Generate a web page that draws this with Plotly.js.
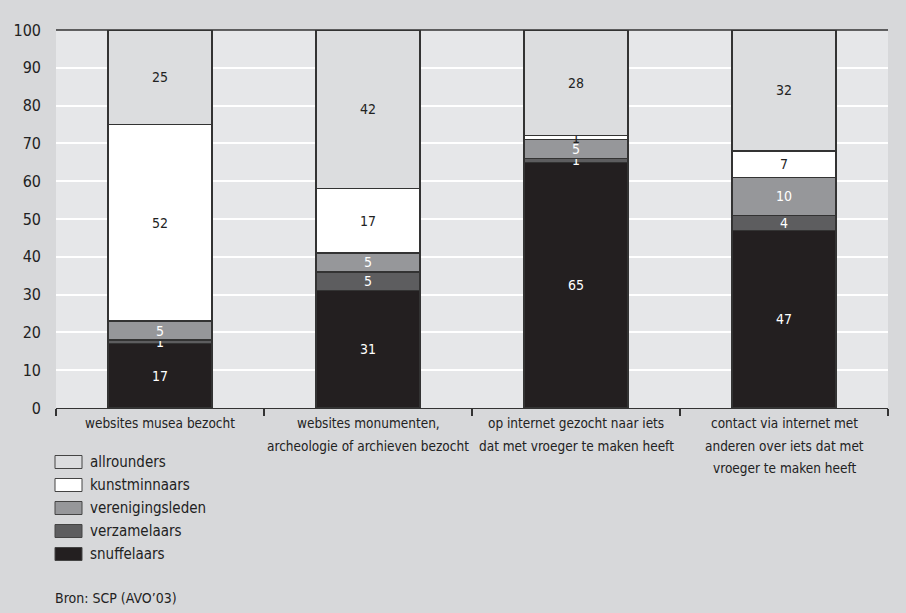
<!DOCTYPE html>
<html>
<head>
<meta charset="utf-8">
<script src="https://cdn.plot.ly/plotly-3.0.1.min.js"></script>
<style>html,body{margin:0;padding:0;background:#d7d8da;}#chart{width:906px;height:613px;}</style>
</head>
<body>
<div id="chart"></div>
<script>
const categories = [
  "websites musea bezocht",
  "websites monumenten,<br>archeologie of archieven bezocht",
  "op internet gezocht naar iets<br>dat met vroeger te maken heeft",
  "contact via internet met<br>anderen over iets dat met<br>vroeger te maken heeft"
];
const seriesNames = ["snuffelaars", "verzamelaars", "verenigingsleden", "kunstminnaars", "allrounders"];
const snuffelaars = [17, 31, 65, 47];
const verzamelaars = [1, 5, 1, 4];
const verenigingsleden = [5, 5, 5, 10];
const kunstminnaars = [52, 17, 1, 7];
const allrounders = [25, 42, 28, 32];
const yTicks = [0, 10, 20, 30, 40, 50, 60, 70, 80, 90, 100];
const sourceText = "Bron: SCP (AVO’03)";

const seriesValues = [snuffelaars, verzamelaars, verenigingsleden, kunstminnaars, allrounders];
const fills = ["#231f20", "#5d5d5f", "#96979a", "#ffffff", "#dcdddf"];
const textColors = ["#ffffff", "#ffffff", "#ffffff", "#222222", "#222222"];
const FONT = '"DejaVu Sans Condensed", "Liberation Sans Narrow", Arial, sans-serif';

const traces = seriesValues.map((vals, i) => ({
  type: "bar",
  name: seriesNames[i],
  x: categories,
  y: vals,
  width: 0.5,
  marker: {color: fills[i], line: {color: "#333333", width: 1.2}},
  text: vals.map(String),
  texttemplate: "%{text}",
  textposition: "inside",
  insidetextanchor: "middle",
  textangle: 0,
  constraintext: "none",
  textfont: {family: FONT, size: 14, color: textColors[i]},
  hoverinfo: "skip",
  showlegend: false,
  cliponaxis: false
}));

// plot area: x 56..888, y 30..408
const L = 56, R = 888, T = 30, B = 408;
const px = X => (X - L) / (R - L);
const py = Y => (B - Y) / (B - T);

const shapes = [
  {type: "line", xref: "paper", yref: "paper", x0: 0, x1: 1, y0: 1, y1: 1, line: {color: "#333333", width: 1.5}}
];
const annotations = [];

// category labels, one annotation per line for the reference's line spacing
categories.forEach(cat => {
  cat.split("<br>").forEach((line, j) => {
    annotations.push({xref: "x", yref: "paper", x: cat, y: py(423 + j * 22.5),
      xanchor: "center", yanchor: "middle", text: line, showarrow: false,
      font: {family: FONT, size: 13.5, color: "#222222"}});
  });
});

const legendOrder = [4, 3, 2, 1, 0];
legendOrder.forEach((si, k) => {
  const cy = 462 + k * 23;
  shapes.push({type: "rect", xref: "paper", yref: "paper",
    x0: px(55), x1: px(82), y0: py(cy - 6.5), y1: py(cy + 6.5),
    fillcolor: fills[si], line: {color: "#444444", width: 1}});
  annotations.push({xref: "paper", yref: "paper", x: px(88), y: py(cy), xanchor: "left", yanchor: "middle",
    text: seriesNames[si], showarrow: false, font: {family: FONT, size: 15, color: "#222222"}});
});
annotations.push({xref: "paper", yref: "paper", x: px(53), y: py(598), xanchor: "left", yanchor: "middle",
  text: sourceText, showarrow: false, font: {family: FONT, size: 14, color: "#222222"}});

const layout = {
  width: 906, height: 613,
  margin: {l: L, r: 906 - R, t: T, b: 613 - B, pad: 0},
  paper_bgcolor: "#d7d8da",
  plot_bgcolor: "#e6e7e9",
  barmode: "stack",
  showlegend: false,
  uniformtext: {minsize: 14, mode: "show"},
  font: {family: FONT, color: "#222222"},
  xaxis: {
    type: "category",
    tickson: "boundaries",
    ticks: "outside", ticklen: 7, tickcolor: "#333333", tickwidth: 1.2,
    showline: true, linecolor: "#333333", linewidth: 1.2,
    showgrid: false,
    showticklabels: false,
    fixedrange: true
  },
  yaxis: {
    range: [0, 100],
    tickvals: yTicks,
    ticktext: yTicks.map(String),
    showgrid: true, gridcolor: "#ffffff", gridwidth: 2,
    zeroline: false, showline: false,
    ticks: "", ticklabelstandoff: 14,
    tickfont: {family: FONT, size: 16, color: "#222222"},
    fixedrange: true
  },
  shapes: shapes,
  annotations: annotations
};

Plotly.newPlot("chart", traces, layout, {displayModeBar: false, staticPlot: true});
</script>
</body>
</html>
